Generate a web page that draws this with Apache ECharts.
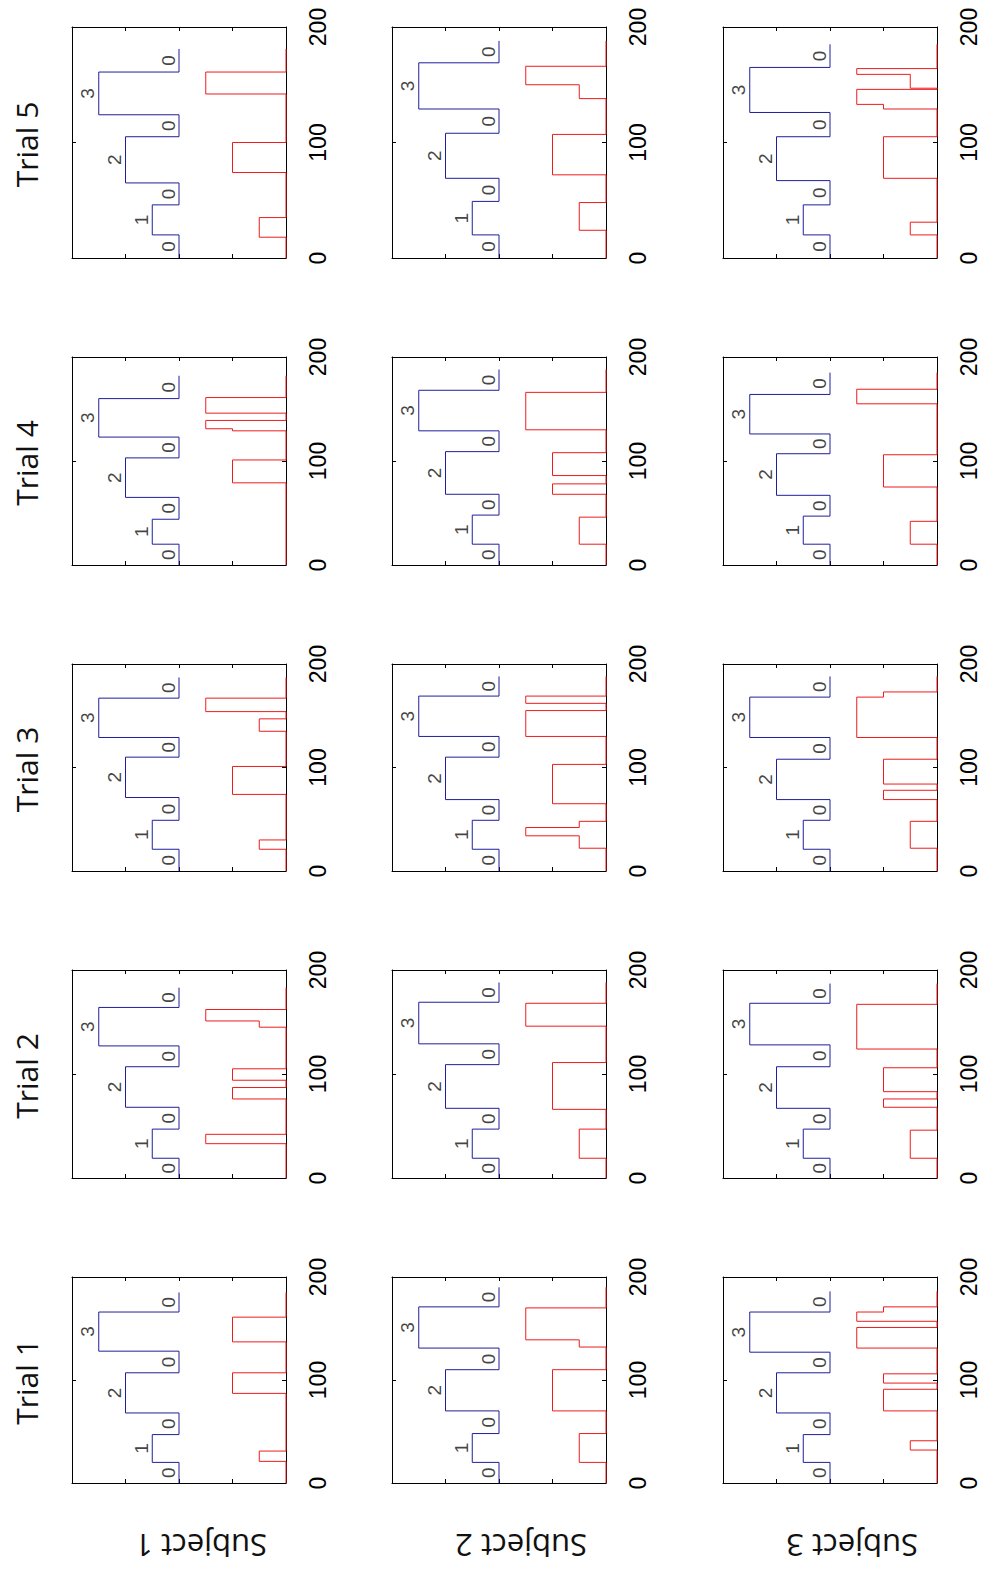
<!DOCTYPE html>
<html><head><meta charset="utf-8">
<script src="https://cdn.jsdelivr.net/npm/echarts@6/dist/echarts.min.js"></script>
<style>html,body{margin:0;padding:0;background:#fff}#c{width:984px;height:1569px}</style>
</head><body><div id="c"></div>
<script>
const subjects = ['Subject 1', 'Subject 2', 'Subject 3'];
const trials = ['Trial 1', 'Trial 2', 'Trial 3', 'Trial 4', 'Trial 5'];
const timeTicks = [0, 100, 200];
const trueLevels = [0, 1, 0, 2, 0, 3, 0];

// blue (true) sequence: change times, last value = end of record; one row per trial 1..5
const blueS1 = [
  [20, 47, 68, 107, 128, 166, 185],
  [19, 47, 68, 107, 127, 164, 183],
  [21, 49, 71, 110, 129, 167, 187],
  [20, 44, 65, 103, 123, 160, 182],
  [20, 46, 65, 105, 124, 161, 181]
];
const blueS2 = [
  [20, 48, 70, 110, 131, 171, 190],
  [19, 47, 67, 109, 129, 169, 188],
  [21, 49, 69, 110, 130, 169, 188],
  [20, 48, 68, 109, 129, 168, 188],
  [20, 49, 69, 108, 129, 169, 188]
];
const blueS3 = [
  [20, 47, 68, 107, 127, 166, 186],
  [19, 47, 67, 107, 128, 168, 187],
  [21, 49, 69, 108, 129, 168, 188],
  [20, 47, 67, 107, 126, 164, 185],
  [20, 46, 67, 105, 126, 165, 185]
];
// red (detected) sequence: [time, class] change points, starting from class 0
const redS1 = [
  [[21, 1], [31, 0], [87, 2], [107, 0], [137, 2], [161, 0]],
  [[33, 3], [42, 0], [76, 2], [87, 0], [94, 2], [105, 0], [145, 1], [151, 3], [162, 0]],
  [[21, 1], [30, 0], [74, 2], [101, 0], [135, 1], [147, 0], [154, 3], [167, 0]],
  [[79, 2], [101, 0], [129, 2], [131, 3], [139, 0], [146, 3], [161, 0]],
  [[18, 1], [35, 0], [74, 2], [100, 0], [142, 3], [161, 0]]
];
const redS2 = [
  [[20, 1], [48, 0], [70, 2], [110, 0], [132, 1], [139, 3], [170, 0]],
  [[19, 1], [47, 0], [66, 2], [111, 0], [146, 3], [168, 0]],
  [[22, 1], [34, 3], [42, 1], [48, 0], [65, 2], [103, 0], [130, 3], [155, 0], [162, 3], [169, 0]],
  [[20, 1], [46, 0], [68, 2], [78, 0], [86, 2], [108, 0], [130, 3], [166, 0]],
  [[24, 1], [48, 0], [72, 2], [107, 0], [138, 1], [150, 3], [166, 0]]
];
const redS3 = [
  [[32, 1], [41, 0], [70, 2], [91, 0], [97, 2], [106, 0], [131, 3], [151, 0], [157, 3], [166, 2], [171, 0]],
  [[19, 1], [46, 0], [68, 2], [76, 0], [83, 2], [106, 0], [124, 3], [167, 0]],
  [[22, 1], [48, 0], [69, 2], [78, 0], [84, 2], [108, 0], [129, 3], [168, 2], [173, 0]],
  [[20, 1], [42, 0], [75, 2], [106, 0], [155, 3], [169, 0]],
  [[20, 1], [31, 0], [69, 2], [105, 0], [129, 2], [133, 3], [146, 0], [147, 1], [159, 3], [164, 0]]
];

const blueAll = [blueS1, blueS2, blueS3];
const redAll = [redS1, redS2, redS3];

// layout (pixels)
const colLeft = [72, 392, 723];
const colWidth = 214;
const rowTop = [1277, 970, 664, 357, 27];
const rowHeight = [206, 208, 207, 208, 231];

// vertical placement of the classes in each panel's signal axis
const blueOffset = 2, classScale = 0.5;
const blueMap = c => blueOffset + c * classScale;
const redMap = c => c * classScale;

const FONT_NUM = '"Liberation Sans", Arial, sans-serif';
const FONT_TXT = '"Open Sans", "Noto Sans", sans-serif';

const grids = [], xAxes = [], yAxes = [], series = [], graphics = [];
let k = 0;
for (let s = 0; s < 3; s++) {
  for (let t = 0; t < 5; t++) {
    grids.push({ left: colLeft[s], top: rowTop[t], width: colWidth, height: rowHeight[t],
      show: false, containLabel: false });
    const ax = { gridIndex: k, type: 'value', min: 0, max: 4, interval: 1, inverse: true,
      axisLine: { show: true, onZero: false, lineStyle: { color: '#000', width: 1 } },
      axisTick: { show: true, inside: true, length: 4, lineStyle: { color: '#000' } },
      axisLabel: { show: false }, splitLine: { show: false } };
    xAxes.push(Object.assign({}, ax, { position: 'bottom' }));
    xAxes.push(Object.assign({}, ax, { position: 'top' }));
    const ay = { gridIndex: k, type: 'value', min: timeTicks[0], max: timeTicks[timeTicks.length - 1],
      interval: timeTicks[1] - timeTicks[0],
      axisLine: { show: true, onZero: false, lineStyle: { color: '#000', width: 1 } },
      axisTick: { show: true, inside: true, length: 4, lineStyle: { color: '#000' } },
      splitLine: { show: false } };
    yAxes.push(Object.assign({}, ay, { position: 'right',
      axisLabel: { show: true, rotate: 90, fontSize: 23, color: '#000', fontFamily: FONT_NUM, margin: 20 } }));
    yAxes.push(Object.assign({}, ay, { position: 'left', axisLabel: { show: false } }));

    // blue step line
    const b = blueAll[s][t];
    const bluePts = [], labelPts = [];
    for (let i = 0; i < trueLevels.length; i++) {
      const st = i === 0 ? 0 : b[i - 1];
      const en = b[i];
      bluePts.push([blueMap(trueLevels[i]), st], [blueMap(trueLevels[i]), en]);
      labelPts.push({ value: [blueMap(trueLevels[i]), (st + en) / 2], name: String(trueLevels[i]) });
    }
    series.push({ type: 'line', xAxisIndex: 2 * k, yAxisIndex: 2 * k, data: bluePts,
      symbol: 'none', animation: false, clip: false, silent: true,
      lineStyle: { color: '#1f1f9c', width: 1 }, z: 3 });
    series.push({ type: 'scatter', xAxisIndex: 2 * k, yAxisIndex: 2 * k, data: labelPts,
      symbolSize: 0, animation: false, silent: true,
      label: { show: true, position: 'inside', rotate: 90, offset: [0, -11], formatter: p => p.name,
        fontSize: 19, color: '#111', fontFamily: FONT_NUM } });

    // red step line
    const r = redAll[s][t];
    const end = b[b.length - 1];
    const redPts = [];
    let cur = 0, t0 = 0;
    for (const [tc, v] of r) {
      redPts.push([redMap(cur), t0], [redMap(cur), tc]);
      cur = v; t0 = tc;
    }
    redPts.push([redMap(cur), t0], [redMap(cur), end]);
    series.push({ type: 'line', xAxisIndex: 2 * k, yAxisIndex: 2 * k, data: redPts,
      symbol: 'none', animation: false, clip: false, silent: true,
      lineStyle: { color: '#ee1c1c', width: 1 }, z: 4 });
    k++;
  }
}

trials.forEach((name, t) => {
  graphics.push({ type: 'text', x: 26, y: rowTop[t] + rowHeight[t] / 2 + 2, rotation: Math.PI / 2,
    style: { text: name, font: '30px ' + FONT_TXT, fill: '#111', align: 'center', verticalAlign: 'middle' } });
});
subjects.forEach((name, s) => {
  graphics.push({ type: 'text', x: colLeft[s] + colWidth / 2 + 22, y: 1546, rotation: Math.PI,
    style: { text: name, font: '31px ' + FONT_TXT, fill: '#111', align: 'center', verticalAlign: 'middle' } });
});

const chart = echarts.init(document.getElementById('c'), null, { renderer: 'svg', width: 984, height: 1569 });
chart.setOption({
  animation: false,
  backgroundColor: '#fff',
  grid: grids, xAxis: xAxes, yAxis: yAxes, series: series, graphic: graphics
});
</script></body></html>
